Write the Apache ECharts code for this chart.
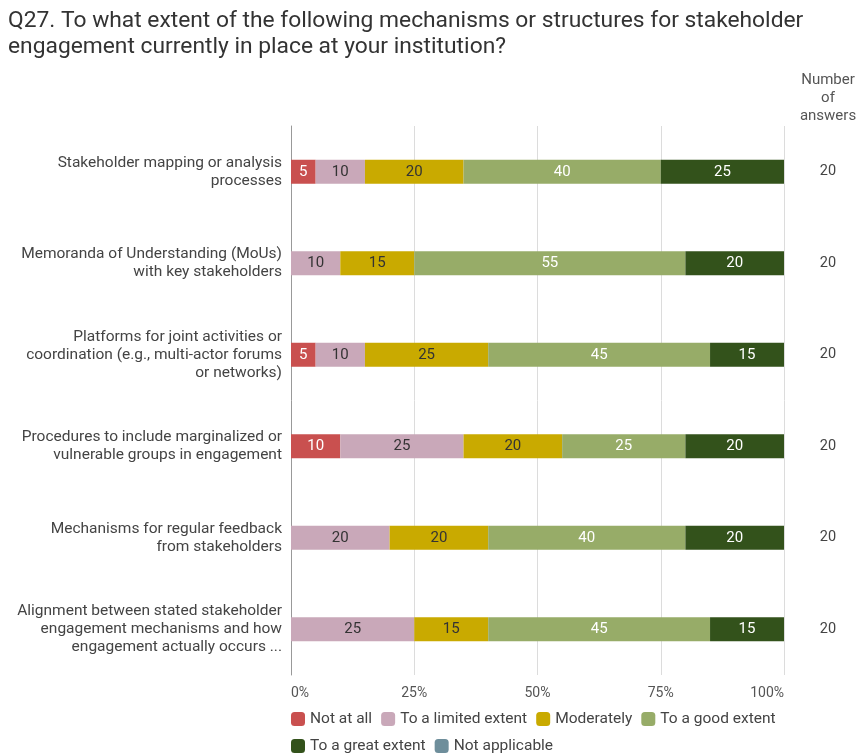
<!DOCTYPE html>
<html>
<head>
<meta charset="utf-8">
<script src="https://cdn.jsdelivr.net/npm/echarts@6/dist/echarts.min.js"></script>
<style>
  html, body { margin: 0; padding: 0; background: #fff; }
  #chart { width: 859px; height: 754px; }
</style>
</head>
<body>
<div id="chart"></div>
<script>
// Survey categories (top to bottom)
var categories = [
  'Stakeholder mapping or analysis\nprocesses',
  'Memoranda of Understanding (MoUs)\nwith key stakeholders',
  'Platforms for joint activities or\ncoordination (e.g., multi-actor forums\nor networks)',
  'Procedures to include marginalized or\nvulnerable groups in engagement',
  'Mechanisms for regular feedback\nfrom stakeholders',
  'Alignment between stated stakeholder\nengagement mechanisms and how\nengagement actually occurs ...'
];

// Percentage shares per response option
var notAtAll      = [5, 0, 5, 10, 0, 0];
var limitedExtent = [10, 10, 10, 25, 20, 25];
var moderately    = [20, 15, 25, 20, 20, 15];
var goodExtent    = [40, 55, 45, 25, 40, 45];
var greatExtent   = [25, 20, 15, 20, 20, 15];
var notApplicable = [0, 0, 0, 0, 0, 0];

// Number of answers per question
var answers = [20, 20, 20, 20, 20, 20];

var xTicks = [0, 25, 50, 75, 100];

var FONT = 'Roboto, "Noto Sans", sans-serif';

function makeSeries(name, data, color, labelColor) {
  return {
    name: name,
    type: 'bar',
    stack: 'total',
    barWidth: 24,
    data: data,
    itemStyle: { color: color },
    label: {
      show: true,
      position: 'inside',
      color: labelColor,
      fontSize: 15,
      fontFamily: FONT,
      formatter: function (p) { return p.value ? String(p.value) : ''; }
    },
    emphasis: { disabled: true }
  };
}

var chart = echarts.init(document.getElementById('chart'), null, { renderer: 'canvas' });

chart.setOption({
  animation: false,
  textStyle: { fontFamily: FONT },
  grid: { left: 291, right: 75, top: 126, bottom: 79 },
  legend: {
    left: 286,
    top: 705,
    width: 530,
    itemWidth: 14,
    itemHeight: 14,
    itemGap: 9,
    icon: 'roundRect',
    textStyle: { fontSize: 15.5, lineHeight: 18, color: '#444' },
    data: ['Not at all', 'To a limited extent', 'Moderately', 'To a good extent', 'To a great extent', 'Not applicable']
  },
  xAxis: {
    type: 'value',
    min: 0,
    max: 100,
    interval: 25,
    axisLine: { show: false },
    axisTick: { show: false },
    splitLine: { show: true, lineStyle: { color: '#dcdcdc', width: 1 } },
    axisLabel: {
      color: '#555',
      fontSize: 14,
      margin: 11,
      alignMinLabel: 'left',
      alignMaxLabel: 'right',
      formatter: function (v) { return xTicks.indexOf(v) >= 0 ? v + '%' : ''; }
    }
  },
  yAxis: [
    {
      type: 'category',
      inverse: true,
      data: categories,
      axisLine: { show: true, lineStyle: { color: '#999' } },
      axisTick: { show: false },
      axisLabel: {
        color: '#444',
        fontSize: 15.5,
        lineHeight: 18,
        margin: 9,
        align: 'right'
      }
    },
    {
      type: 'category',
      inverse: true,
      position: 'right',
      data: answers.map(String),
      axisLine: { show: false },
      axisTick: { show: false },
      axisLabel: {
        color: '#444',
        fontSize: 14.5,
        align: 'center',
        margin: 44
      }
    }
  ],
  graphic: [
    {
      type: 'text',
      x: 8,
      y: 8,
      style: {
        text: 'Q27. To what extent of the following mechanisms or structures for stakeholder\nengagement currently in place at your institution?',
        fontSize: 22.8,
        lineHeight: 26,
        fill: '#333',
        fontFamily: FONT
      }
    },
    {
      type: 'text',
      x: 828,
      y: 71,
      style: {
        text: 'Number\nof\nanswers',
        fontSize: 15,
        lineHeight: 18,
        fill: '#555',
        align: 'center',
        verticalAlign: 'top',
        fontFamily: FONT
      }
    }
  ],
  series: [
    makeSeries('Not at all', notAtAll, '#c9504f', '#fff'),
    makeSeries('To a limited extent', limitedExtent, '#c9a8b9', '#333'),
    makeSeries('Moderately', moderately, '#c9aa00', '#333'),
    makeSeries('To a good extent', goodExtent, '#97ac68', '#fff'),
    makeSeries('To a great extent', greatExtent, '#33521b', '#fff'),
    makeSeries('Not applicable', notApplicable, '#6e8e9b', '#fff')
  ]
});
</script>
</body>
</html>
